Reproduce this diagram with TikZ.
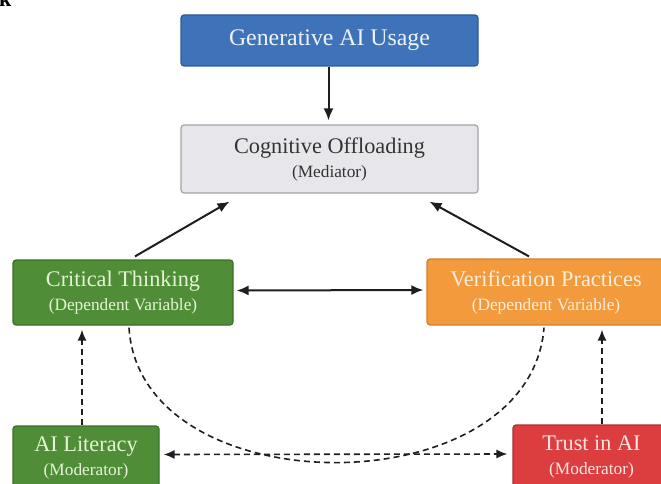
\documentclass[tikz,border=0pt]{standalone}
\usepackage{fontspec}
\setmainfont{Liberation Serif}
\usetikzlibrary{arrows.meta}
\definecolor{genfill}{HTML}{3E72B9}
\definecolor{gendraw}{HTML}{2D5C9A}
\definecolor{cogfill}{HTML}{E7E7EB}
\definecolor{cogdraw}{HTML}{A2A2AA}
\definecolor{grnfill}{HTML}{4F8E37}
\definecolor{grndraw}{HTML}{3C6F28}
\definecolor{grntext}{HTML}{E6F4D6}
\definecolor{orgfill}{HTML}{F39A3D}
\definecolor{orgdraw}{HTML}{D57F2B}
\definecolor{orgtext}{HTML}{FDEEDC}
\definecolor{redfill}{HTML}{DC3D3F}
\definecolor{reddraw}{HTML}{B12D30}
\definecolor{redtext}{HTML}{FDE6E4}
\definecolor{gentext}{HTML}{EEF3FB}
\definecolor{linecol}{HTML}{1E1E1E}
\tikzset{
  box/.style={rectangle, rounded corners=3pt, line width=1.2pt, align=center, inner sep=0pt},
  mainf/.style={font=\fontsize{22.3}{24}\selectfont},
  genbox/.style={box, fill=genfill, draw=gendraw, text=gentext},
  cogbox/.style={box, fill=cogfill, draw=cogdraw, text=black!80},
  grnbox/.style={box, fill=grnfill, draw=grndraw, text=grntext},
  orgbox/.style={box, fill=orgfill, draw=orgdraw, text=orgtext},
  redbox/.style={box, fill=redfill, draw=reddraw, text=redtext},
  solidarr/.style={draw=linecol, line width=2pt, -{Latex[length=12pt,width=10pt]}},
  solidboth/.style={draw=linecol, line width=2pt, {Latex[length=12pt,width=10pt]}-{Latex[length=12pt,width=10pt]}},
  dasharr/.style={draw=linecol, line width=1.6pt, dash pattern=on 6pt off 4pt, -{Latex[length=11pt,width=9pt]}},
  dashboth/.style={draw=linecol, line width=1.6pt, dash pattern=on 6pt off 4pt, {Latex[length=11pt,width=9pt]}-{Latex[length=11pt,width=9pt]}},
  dashline/.style={draw=linecol, line width=1.6pt, dash pattern=on 6pt off 4pt}
}
\newcommand{\subl}[1]{{\fontsize{17.3}{24}\selectfont #1}}
\begin{document}
\begin{tikzpicture}[x=1pt, y=-1pt]
\useasboundingbox (0,0) rectangle (661,484);
\fill[white] (0,0) rectangle (661,484);

\node[anchor=base west, font=\fontsize{22}{22}\selectfont\bfseries, inner sep=0pt] (frag) at (-1,7) {k};

\node[genbox, font=\fontsize{23.8}{24}\selectfont, minimum width=297pt, minimum height=51pt] (gen) at (329.5,40.5) {Generative AI Usage};
\node[cogbox, mainf, minimum width=297pt, minimum height=68pt] (cog) at (329.5,159) {Cognitive Offloading\\\subl{(Mediator)}};
\node[grnbox, mainf, minimum width=220pt, minimum height=65pt] (ct) at (123,292.5) {Critical Thinking\\\subl{(Dependent Variable)}};
\node[orgbox, mainf, minimum width=238pt, minimum height=66pt] (vp) at (546,292) {Verification Practices\\\subl{(Dependent Variable)}};
\node[grnbox, mainf, minimum width=146pt, minimum height=64pt] (ail) at (86,458) {AI Literacy\\\subl{(Moderator)}};
\node[redbox, mainf, minimum width=157pt, minimum height=64pt] (tr) at (591.5,457) {Trust in AI\\\subl{(Moderator)}};

% solid connectors
\draw[solidarr, shorten >=4pt] ([xshift=-1pt]gen.south) -- ([xshift=-1pt]cog.north);
\draw[solidarr] ([xshift=12pt,yshift=3pt]ct.north) -- ([xshift=-100pt,yshift=-8pt]cog.south);
\draw[solidarr] ([xshift=-17pt,yshift=2pt]vp.north) -- ([xshift=100pt,yshift=-8pt]cog.south);
\draw[solidboth, shorten <=3pt, shorten >=3pt] ([yshift=2pt]ct.east) -- ([yshift=2pt]vp.west);

% dashed connectors
\draw[dasharr, shorten >=4pt] ([xshift=-4pt]ail.north) -- ([xshift=-41pt]ct.south);
\draw[dasharr, shorten >=4pt] ([xshift=10.5pt]tr.north) -- ([xshift=56pt]vp.south);
\draw[dashboth, shorten <=4pt, shorten >=5pt] ([yshift=3.5pt]ail.east) -- ([yshift=3pt]tr.west);
\draw[dashline] ([xshift=6pt,yshift=-2pt]ct.south) .. controls +(11,180) and +(-14,180) .. ([xshift=-2pt,yshift=-2pt]vp.south);
\end{tikzpicture}
\end{document}
